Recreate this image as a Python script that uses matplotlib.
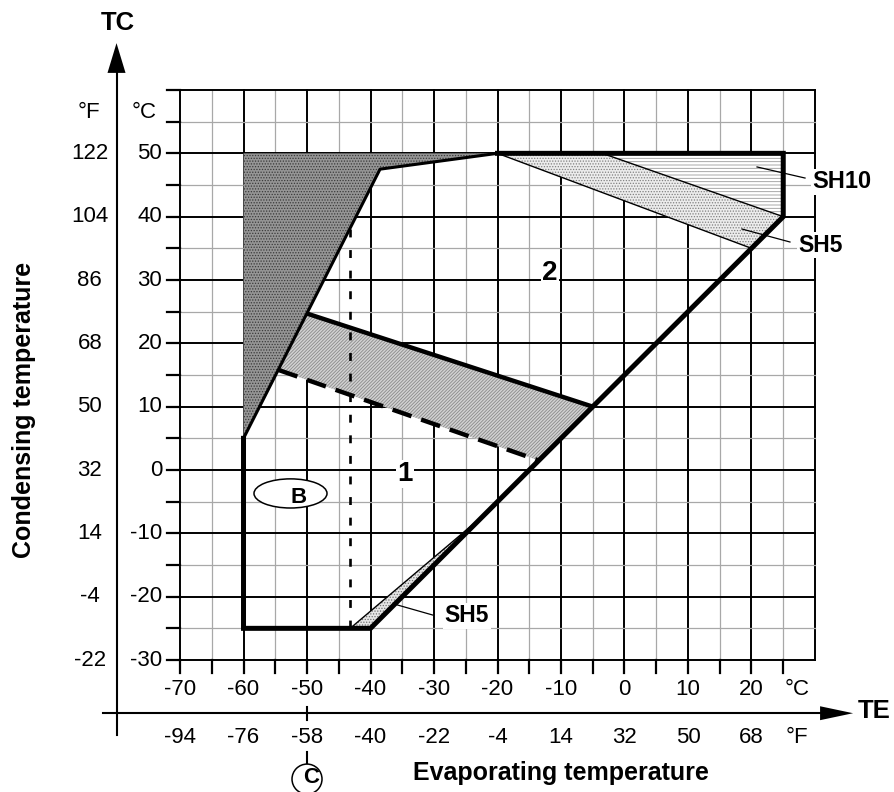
import matplotlib.pyplot as plt
from matplotlib.patches import Ellipse

plt.rcParams['font.family'] = ['Liberation Sans', 'DejaVu Sans']
plt.rcParams['hatch.linewidth'] = 0.6

# axis tick values (TE = evaporating, TC = condensing)
te_c = [-70, -60, -50, -40, -30, -20, -10, 0, 10, 20]
te_f = [-94, -76, -58, -40, -22, -4, 14, 32, 50, 68]
tc_c = [-30, -20, -10, 0, 10, 20, 30, 40, 50]
tc_f = [-22, -4, 14, 32, 50, 68, 86, 104, 122]

# operating envelope, degC
env_te = [-20, 25, 25, -40, -60, -60]
env_tc = [50, 50, 40, -25, -25, 5]
edge_te = [-60, -38.5, -20]
edge_tc = [5, 47.5, 50]

dark_te = [-60, -60, -38.5, -20]
dark_tc = [50, 5, 47.5, 50]

band_te = [-50, -5, -13.5, -54.5]
band_tc = [24.7, 10, 1.5, 15.8]
upper_te = [-50, -5]
upper_tc = [24.7, 10]
dash_te = [-54.5, -13.5]
dash_tc = [15.8, 1.5]

sh5_te = [-20, -3.5, 25, 20]
sh5_tc = [50, 50, 40, 35]
sh10_te = [-3.5, 25, 25]
sh10_tc = [50, 50, 40]
low_te = [-43.2, -40, -22]
low_tc = [-25, -25, -7]

dot_te = [-43.3, -43.3]
dot_tc = [-25, 38]

fig = plt.figure(figsize=(8.95, 7.92), dpi=100)
ax = fig.add_axes([0, 0, 1, 1])
ax.set_xlim(-98.35, 42.6)
ax.set_ylim(-50.84, 74.21)
ax.axis('off')

# grid
for t in range(-70, 31, 5):
    major = t % 10 == 0
    ax.plot([t, t], [-30, 60], color='black' if major else '#a8a8a8',
            lw=1.4 if major else 0.9, zorder=1)
for t in range(-30, 61, 5):
    major = t % 10 == 0
    ax.plot([-70, 30], [t, t], color='black' if major else '#a8a8a8',
            lw=1.4 if major else 0.9, zorder=1)
for t in range(-30, 61, 5):
    ax.plot([-72.05, -70], [t, t], color='black', lw=1.6, zorder=1)
for t in range(-70, 26, 5):
    ax.plot([t, t], [-32.05, -30], color='black', lw=1.6, zorder=1)

# shaded areas
def shade(te, tc, face, hatch, hcol):
    ax.fill(te, tc, facecolor=face, edgecolor='none', zorder=2)
    ax.fill(te, tc, facecolor='none', edgecolor=hcol, hatch=hatch, lw=0, zorder=2)

shade(dark_te, dark_tc, '#959595', '......', '#3a3a3a')
shade(band_te, band_tc, '#d2d2d2', '//////////', '#8a8a8a')
shade(sh5_te, sh5_tc, '#ececec', '......', '#808080')
shade(sh10_te, sh10_tc, 'white', '-----', '#999999')
shade(low_te, low_tc, '#e6e6e6', '......', '#707070')

ax.plot([sh5_te[0], sh5_te[3]], [sh5_tc[0], sh5_tc[3]], 'k', lw=1.0, zorder=3)
ax.plot([sh5_te[1], sh5_te[2]], [sh5_tc[1], sh5_tc[2]], 'k', lw=1.0, zorder=3)
ax.plot([low_te[0], low_te[2]], [low_tc[0], low_tc[2]], 'k', lw=1.0, zorder=3)

ax.plot(dot_te, dot_tc, color='black', lw=1.9, dashes=(3, 4.8), zorder=3)
ax.plot(upper_te, upper_tc, 'k', lw=3.2, solid_capstyle='butt', zorder=4)
ax.plot(dash_te, dash_tc, 'k', lw=3.2, dashes=(4.5, 2.3), zorder=4)
ax.plot(edge_te, edge_tc, 'k', lw=2.2, zorder=4)
ax.plot(env_te, env_tc, 'k', lw=3.6, solid_joinstyle='miter', zorder=5)

# axes with arrows
ax.plot([-80, -80], [-41.8, 62.7], 'k', lw=1.5, zorder=3)
ax.fill([-81.42, -80, -78.58], [62.7, 67.4, 62.7], 'k', zorder=3)
ax.plot([-82.1, 30.8], [-38.4, -38.4], 'k', lw=1.5, zorder=3)
ax.fill([30.8, 36.0, 30.8], [-37.3, -38.4, -39.5], 'k', zorder=3)
ax.plot([-50, -50], [-37.4, -39.5], 'k', lw=1.5)
ax.plot([-50, -50], [-44.5, -46.3], 'k', lw=1.5)

# tick labels
for c, f in zip(tc_c, tc_f):
    ax.text(-72.8, c, str(c), ha='right', va='center', fontsize=16)
    ax.text(-84.2, c, str(f), ha='center', va='center', fontsize=16)
for c, f in zip(te_c, te_f):
    ax.text(c, -34.7, str(c), ha='center', va='center', fontsize=16)
    ax.text(c, -42.2, str(f), ha='center', va='center', fontsize=16)
ax.text(-84.3, 56.5, '°F', ha='center', va='center', fontsize=16)
ax.text(-75.7, 56.5, '°C', ha='center', va='center', fontsize=16)
ax.text(27.2, -34.7, '°C', ha='center', va='center', fontsize=16)
ax.text(27.2, -42.2, '°F', ha='center', va='center', fontsize=16)

ax.text(-79.8, 70.6, 'TC', ha='center', va='center', fontsize=18.5, fontweight='bold')
ax.text(39.4, -38.05, 'TE', ha='center', va='center', fontsize=18.5, fontweight='bold')
ax.text(-94.6, 9.5, 'Condensing temperature', rotation=90, ha='center', va='center',
        fontsize=18, fontweight='bold')
ax.text(-10, -47.8, 'Evaporating temperature', ha='center', va='center',
        fontsize=18, fontweight='bold')

# labels inside the chart
box = dict(facecolor='white', edgecolor='none', pad=1)
ax.text(-34.6, -0.63, '1', ha='center', va='center', fontsize=20, fontweight='bold', bbox=box, zorder=6)
ax.text(-11.7, 31.1, '2', ha='center', va='center', fontsize=20, fontweight='bold', bbox=box, zorder=6)
ax.text(34.25, 45.5, 'SH10', ha='center', va='center', fontsize=17, fontweight='bold', bbox=box, zorder=6)
ax.text(30.8, 35.5, 'SH5', ha='center', va='center', fontsize=16.5, fontweight='bold', bbox=box, zorder=6)
ax.text(-24.8, -23.05, 'SH5', ha='center', va='center', fontsize=16.5, fontweight='bold', bbox=box, zorder=6)
ax.plot([20.87, 28.43], [47.85, 46.1], 'k', lw=0.9, zorder=6)
ax.plot([18.5, 26.06], [38.05, 36.0], 'k', lw=0.9, zorder=6)
ax.plot([-35.8, -30.2], [-21.3, -22.9], 'k', lw=0.9, zorder=6)

ax.add_patch(Ellipse((-52.6, -3.7), 11.5, 4.6, facecolor='white', edgecolor='black', lw=1.1, zorder=6))
ax.text(-51.3, -4.3, 'B', ha='center', va='center', fontsize=16, fontweight='bold', zorder=7)
ax.add_patch(Ellipse((-50, -48.8), 30 / 6.35, 30 / 6.333, facecolor='white', edgecolor='black', lw=1.1, zorder=6))
ax.text(-49.4, -48.6, 'C', ha='center', va='center', fontsize=16, fontweight='bold', zorder=7)

fig.savefig('out.png', dpi=100)
